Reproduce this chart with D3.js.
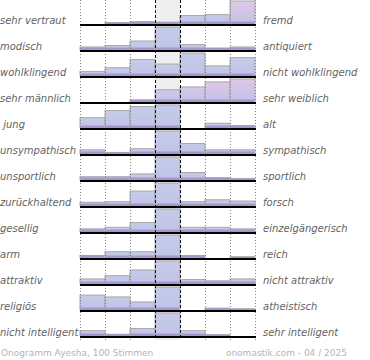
<!DOCTYPE html>
<html><head><meta charset="utf-8">
<script src="https://cdn.jsdelivr.net/npm/d3@7"></script>
<style>
html,body{margin:0;padding:0;background:#fff;}
svg{display:block;}
text{font-family:"DejaVu Sans",sans-serif;}
</style></head>
<body>
<svg id="chart" width="370" height="360"></svg>
<script>
const leftLabels = ["sehr vertraut","modisch","wohlklingend","sehr männlich"," jung","unsympathisch","unsportlich","zurückhaltend","gesellig","arm","attraktiv","religiös","nicht intelligent"];
const rightLabels = ["fremd","antiquiert","nicht wohlklingend","sehr weiblich","alt","sympathisch","sportlich","forsch","einzelgängerisch","reich","nicht attraktiv","atheistisch","sehr intelligent"];
const columns = [1,2,3,4,5,6,7];
const votes = [
  [0,3,5,4,18,20,49],
  [6,9,18,46,11,4,6],
  [5,9,18,13,25,11,20],
  [0,0,3,17,21,28,32],
  [13,22,27,29,0,6,3],
  [8,3,10,44,20,8,8],
  [7,7,13,49,16,5,3],
  [6,7,24,37,7,10,8],
  [6,9,18,44,9,9,6],
  [6,15,15,55,6,0,3],
  [8,13,22,36,7,5,8],
  [24,21,13,37,0,3,2],
  [12,4,17,52,12,3,0]
];
// bars whose top fades to pink: [row, column index, strength]
const pinkBars = [[0,6,1],[3,4,0.6],[3,5,1],[3,6,1],[3,3,0.3]];
const footerLeft = "Onogramm Ayesha, 100 Stimmen";
const footerRight = "onomastik.com - 04 / 2025";

const svg = d3.select("#chart");
const x = d3.scaleBand().domain(d3.range(columns.length)).range([80,255]).paddingInner(0).paddingOuter(0);
const y = d3.scaleBand().domain(d3.range(votes.length)).range([-1,337]).padding(0);
const blue = "#c6cbea", pink = "#e2c6e6", bottomBlue = "#bfc3e7", stripe = "#a190ca";
const tintOf = (r,c) => { const f = pinkBars.find(p => p[0]===r && p[1]===c); return f ? f[2] : 0; };

const defs = svg.append("defs");
const chartBottom = 340;

// center column background
svg.append("rect").attr("x", x(3)).attr("y", 0).attr("width", x.bandwidth()).attr("height", chartBottom).attr("fill", "#eeeeee");

// bars
votes.forEach((row, r) => {
  const base = y(r) + y.bandwidth() - 1; // top of baseline line
  const h = d3.scaleLinear().domain([0, d3.max(row)]).range([0, 23]);
  const g = svg.append("g");
  row.forEach((v, c) => {
    if (v <= 0) return;
    const hh = h(v);
    const t = tintOf(r, c);
    const id = `grad-${r}-${c}`;
    const lg = defs.append("linearGradient").attr("id", id).attr("x1",0).attr("y1",0).attr("x2",0).attr("y2",1);
    lg.append("stop").attr("offset","0%").attr("stop-color", d3.interpolateRgb(blue, pink)(t));
    lg.append("stop").attr("offset","100%").attr("stop-color", bottomBlue);
    g.append("rect").attr("x", x(c)).attr("y", base - hh).attr("width", x.bandwidth()).attr("height", hh)
      .attr("fill", `url(#${id})`).attr("stroke", "#a8a8a8").attr("stroke-width", 1);
    const sh = Math.min(2.5, hh);
    g.append("rect").attr("x", x(c)+0.5).attr("y", base - sh).attr("width", x.bandwidth()-1).attr("height", sh)
      .attr("fill", stripe).attr("opacity", 0.85);
  });
});

// vertical grid lines
const edges = d3.range(columns.length + 1).map(i => i < columns.length ? x(i) : x(columns.length-1) + x.bandwidth());
edges.forEach((ex, i) => {
  const dashed = (i === 3 || i === 4);
  svg.append("line").attr("x1", ex + 0.5).attr("x2", ex + 0.5).attr("y1", 0).attr("y2", chartBottom)
    .attr("stroke", dashed ? "#111" : "#888").attr("stroke-width", 1)
    .attr("stroke-dasharray", dashed ? "3,2" : "1,2");
});

// baselines
votes.forEach((row, r) => {
  const base = y(r) + y.bandwidth();
  svg.append("line").attr("x1", 80).attr("x2", 256).attr("y1", base).attr("y2", base)
    .attr("stroke", "#000").attr("stroke-width", 2);
});

// labels
svg.append("g").selectAll("text").data(leftLabels).join("text")
  .attr("x", 0).attr("y", (d, i) => y(i) + y.bandwidth() - 1.5)
  .attr("font-size", 10).attr("font-style", "italic").attr("fill", "#636363")
  .style("white-space", "pre").text(d => d);
svg.append("g").selectAll("text").data(rightLabels).join("text")
  .attr("x", 263).attr("y", (d, i) => y(i) + y.bandwidth() - 1.5)
  .attr("font-size", 10).attr("font-style", "italic").attr("fill", "#636363")
  .text(d => d);

// footer
svg.append("text").attr("x", 1).attr("y", 356).attr("font-size", 9).attr("fill", "#b4b4b4").text(footerLeft);
svg.append("text").attr("x", 347).attr("y", 356).attr("text-anchor", "end").attr("font-size", 9).attr("fill", "#b4b4b4").text(footerRight);
</script>
</body></html>
